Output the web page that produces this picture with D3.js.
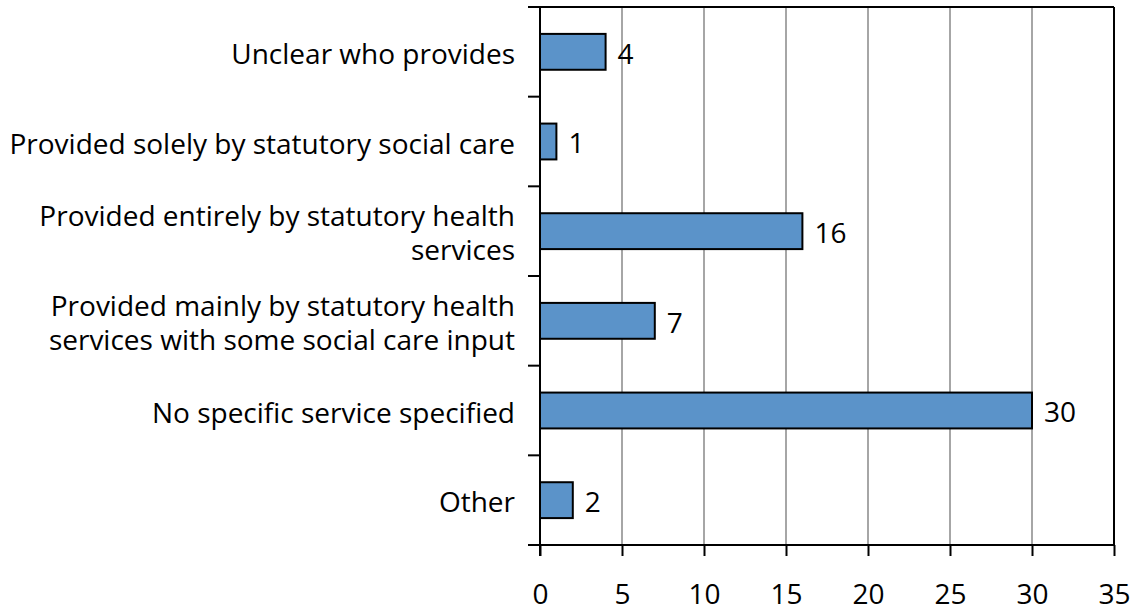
<!DOCTYPE html>
<html>
<head>
<meta charset="utf-8">
<script src="https://cdn.jsdelivr.net/npm/d3@7"></script>
<style>
  body { margin: 0; background: #fff; }
  text { font-family: "Open Sans", "Noto Sans", sans-serif; fill: #000; font-size: 28px; }
</style>
</head>
<body>
<svg width="1144" height="609"></svg>
<script>
// données
const categories = [
  "Unclear who provides",
  "Provided solely by statutory social care",
  "Provided entirely by statutory health\nservices",
  "Provided mainly by statutory health\nservices with some social care input",
  "No specific service specified",
  "Other"
];
const values = [4, 1, 16, 7, 30, 2];
const xTicks = [0, 5, 10, 15, 20, 25, 30, 35];

const svg = d3.select("svg");
const WIDTH = +svg.attr("width");
const HEIGHT = +svg.attr("height");
const margin = { top: 7, right: 30, bottom: 64, left: 540 };
const innerWidth = WIDTH - margin.left - margin.right;
const innerHeight = HEIGHT - margin.top - margin.bottom;

const g = svg.append("g")
  .attr("transform", `translate(${margin.left},${margin.top})`);

const x = d3.scaleLinear().domain([0, 35]).range([0, innerWidth]);
const y = d3.scaleBand().domain(categories).range([0, innerHeight]).paddingInner(0.6).paddingOuter(0.3);

// grille verticale
g.selectAll(".grid")
  .data(xTicks.slice(1))
  .join("line")
  .attr("x1", d => x(d)).attr("x2", d => x(d))
  .attr("y1", 0).attr("y2", innerHeight)
  .attr("stroke", "#a6a6a6")
  .attr("stroke-width", 2);

// cadre haut + droite
g.append("line").attr("x1", 0).attr("x2", innerWidth).attr("y1", 0).attr("y2", 0)
  .attr("stroke", "#000").attr("stroke-width", 2);
g.append("line").attr("x1", innerWidth).attr("x2", innerWidth).attr("y1", 0).attr("y2", innerHeight)
  .attr("stroke", "#000").attr("stroke-width", 2);

// barres
g.selectAll(".bar")
  .data(values)
  .join("rect")
  .attr("x", 0)
  .attr("y", (d, i) => y(categories[i]))
  .attr("width", d => x(d))
  .attr("height", y.bandwidth())
  .attr("fill", "#5b93c9")
  .attr("stroke", "#000")
  .attr("stroke-width", 2);

// étiquettes de valeur
g.selectAll(".val")
  .data(values)
  .join("text")
  .attr("x", d => x(d) + 12)
  .attr("y", (d, i) => y(categories[i]) + y.bandwidth() / 2)
  .attr("dy", "0.42em")
  .text(d => d);

// axe X
const xAxis = g.append("g")
  .attr("transform", `translate(0,${innerHeight})`)
  .call(d3.axisBottom(x).tickValues(xTicks).tickSize(11).tickPadding(28));
xAxis.attr("font-size", null).attr("font-family", null);
xAxis.selectAll("line, path").attr("stroke", "#000").attr("stroke-width", 2);
xAxis.select(".domain").attr("d", `M-12,0H${innerWidth}`);

// axe Y : traits aux limites des catégories
const bounds = d3.range(categories.length + 1).map(i => i * innerHeight / categories.length);
g.append("line").attr("x1", 0).attr("x2", 0).attr("y1", 0).attr("y2", innerHeight + 11)
  .attr("stroke", "#000").attr("stroke-width", 2);
g.selectAll(".ytick")
  .data(bounds)
  .join("line")
  .attr("x1", -12).attr("x2", 0)
  .attr("y1", d => d).attr("y2", d => d)
  .attr("stroke", "#000").attr("stroke-width", 2);

// libellés des catégories
const lineH = 34;
categories.forEach((c, i) => {
  const lines = c.split("\n");
  const cy = y(c) + y.bandwidth() / 2;
  const t = g.append("text")
    .attr("text-anchor", "end")
    .attr("y", cy - (lines.length - 1) * lineH / 2);
  lines.forEach((l, j) => {
    t.append("tspan").attr("x", -25).attr("dy", j === 0 ? "0.44em" : lineH).text(l);
  });
});
</script>
</body>
</html>
